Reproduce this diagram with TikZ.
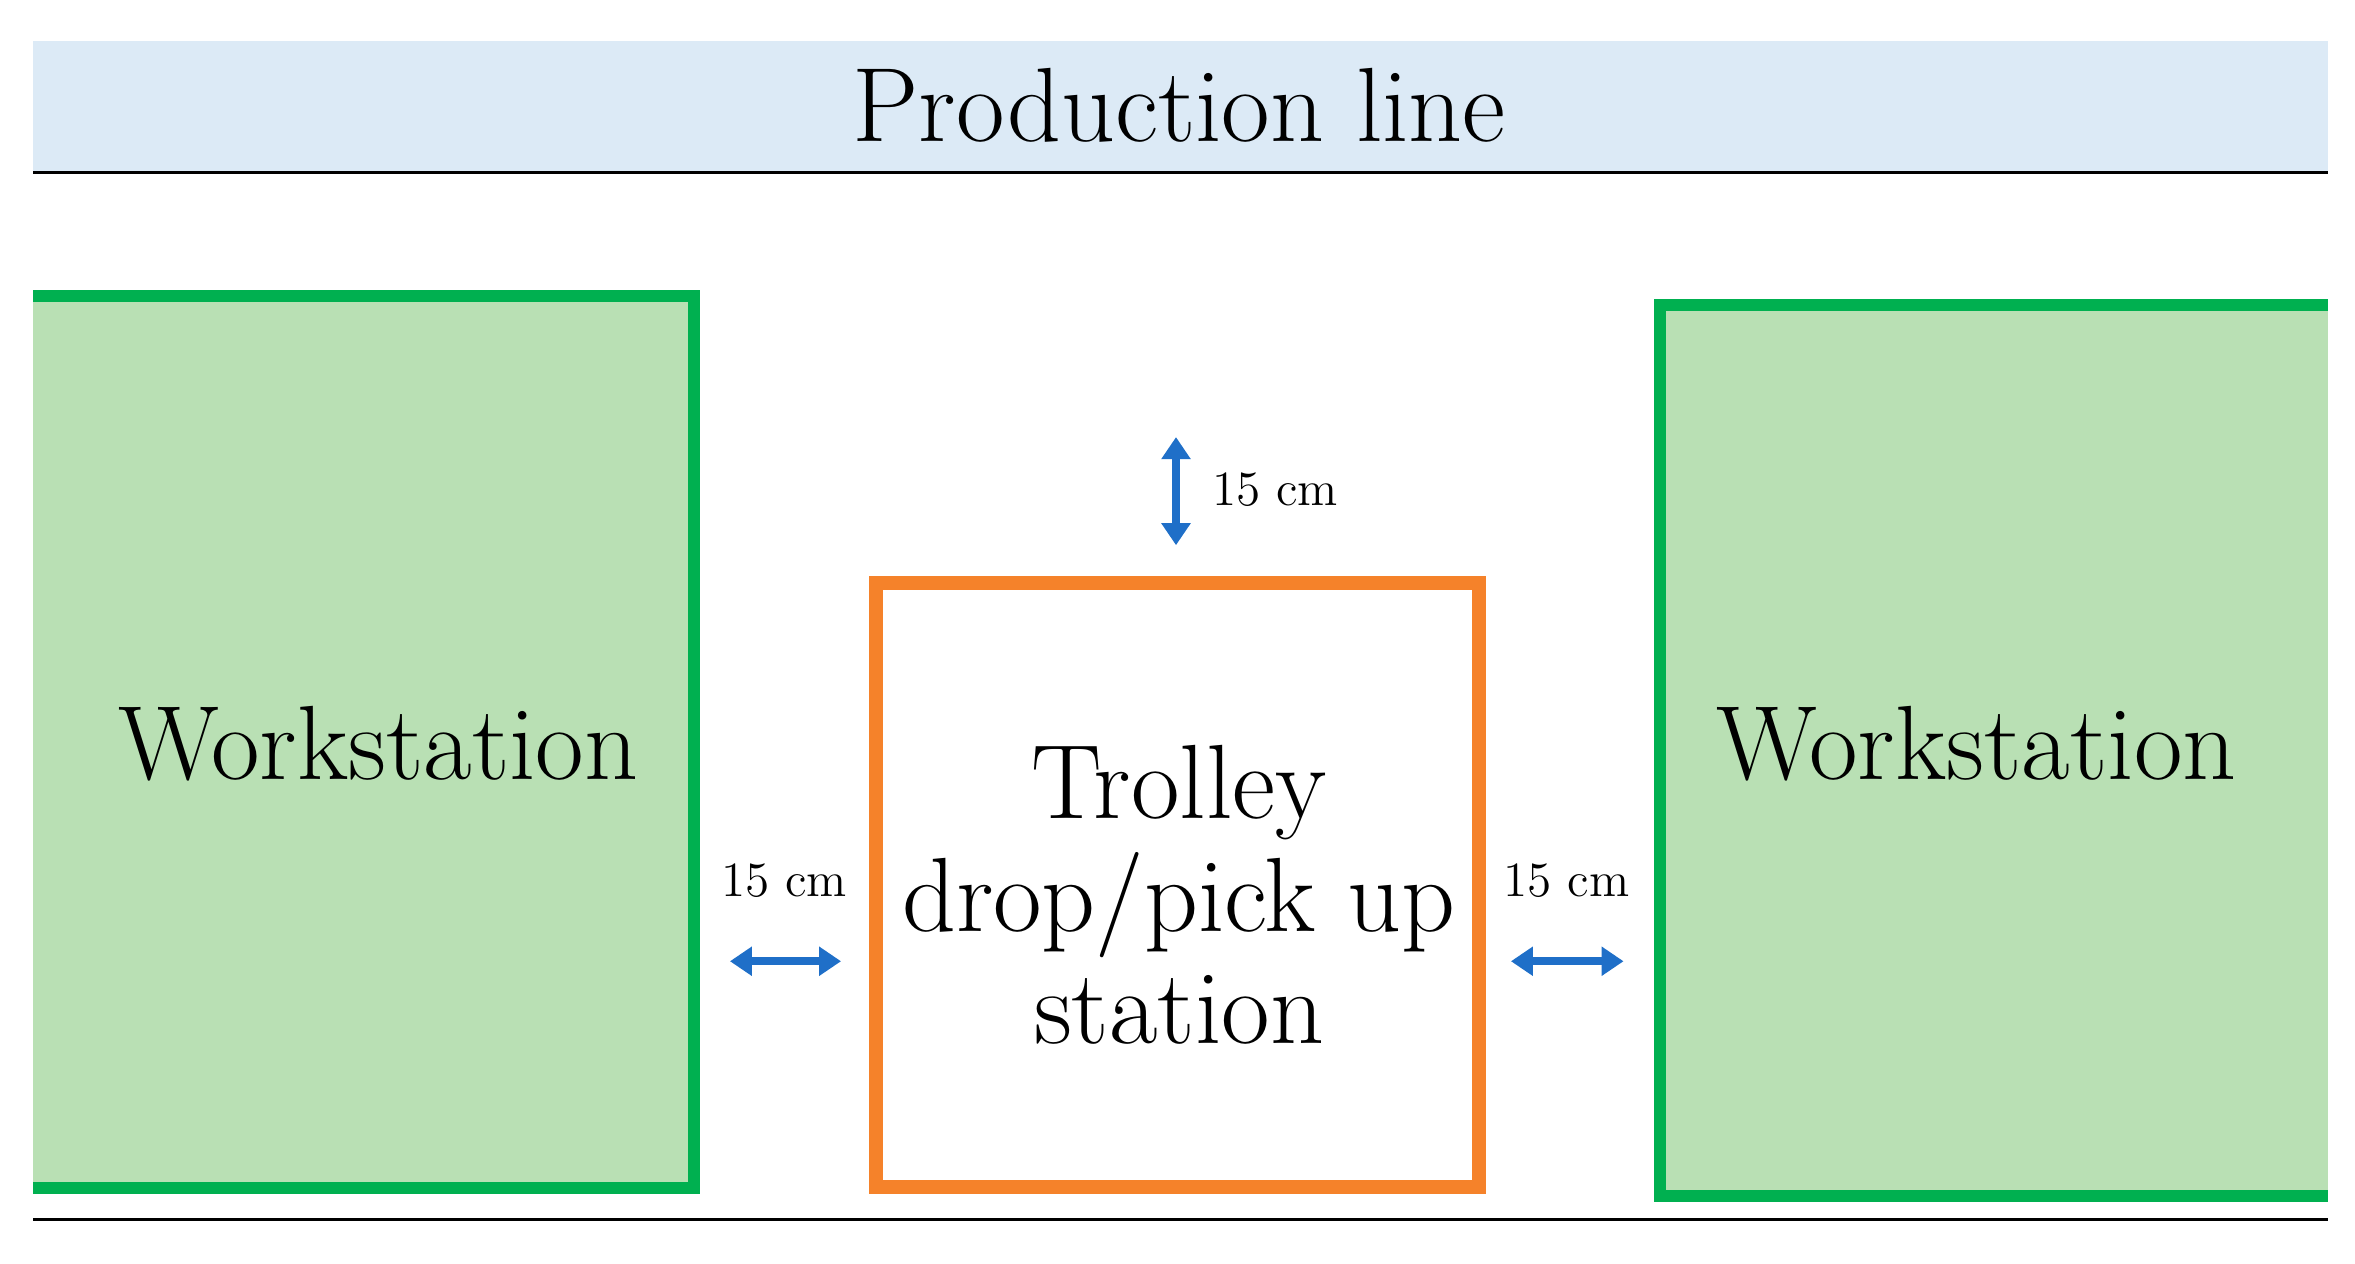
\documentclass[tikz,border=0pt]{standalone}
\usetikzlibrary{arrows.meta}
\definecolor{headblue}{RGB}{220,234,246}
\definecolor{wsfill}{RGB}{185,224,180}
\definecolor{wsline}{RGB}{0,176,80}
\definecolor{tborder}{RGB}{245,130,42}
\definecolor{gapblue}{RGB}{31,111,200}
\tikzset{
  ws/.style={draw=none, fill=wsfill},
  wsedge/.style={wsline, line width=0.12cm},
  gap/.style={gapblue, line width=0.08cm, {Triangle[length=0.22cm,width=0.28cm]}-{Triangle[length=0.22cm,width=0.28cm]}},
  gaplabel/.style={font=\fontsize{14}{16}\selectfont},
  bigtext/.style={font=\fontsize{30}{36}\selectfont, align=center}
}
\begin{document}
\begin{tikzpicture}[x=0.015cm, y=-0.015cm]
    \useasboundingbox (0, 0) rectangle (1568, 841);
    % header
    \fill[headblue] (22, 27) rectangle (1550, 115);
    \draw[thick] (22, 115) -- (1550, 115);
    \node[bigtext] (title) at (785, 70) {Production line};
    % workstations
    \fill[ws] (22, 197) rectangle (462, 791);
    \draw[wsedge] (22, 197) -- (462, 197) -- (462, 791) -- (22, 791);
    \node[bigtext] (wsleft) at (252, 495) {Workstation};
    \fill[ws] (1105, 203) rectangle (1550, 796);
    \draw[wsedge] (1550, 203) -- (1105, 203) -- (1105, 796) -- (1550, 796);
    \node[bigtext] (wsright) at (1316, 495) {Workstation};
    % trolley station
    \draw[tborder, line width=0.14cm] (583, 388) rectangle (985, 790);
    \node[bigtext] (trolley) at (785, 596) {Trolley\\[-4pt]drop/pick up\\[-4pt]station};
    \draw[thick] (22, 812) -- (1550, 812);
    % distances
    \coordinate (vtop) at (783, 291);
    \coordinate (vbot) at (783, 363);
    \draw[gap] (vtop) -- (vbot);
    \node[gaplabel] (lblv) at (849, 326) {15 cm};
    \coordinate (la) at (486, 640);
    \coordinate (lb) at (560, 640);
    \draw[gap] (la) -- (lb);
    \node[gaplabel] (lbll) at (522, 586) {15 cm};
    \coordinate (ra) at (1006, 640);
    \coordinate (rb) at (1081, 640);
    \draw[gap] (ra) -- (rb);
    \node[gaplabel] (lblr) at (1043, 586) {15 cm};
\end{tikzpicture}
\end{document}
